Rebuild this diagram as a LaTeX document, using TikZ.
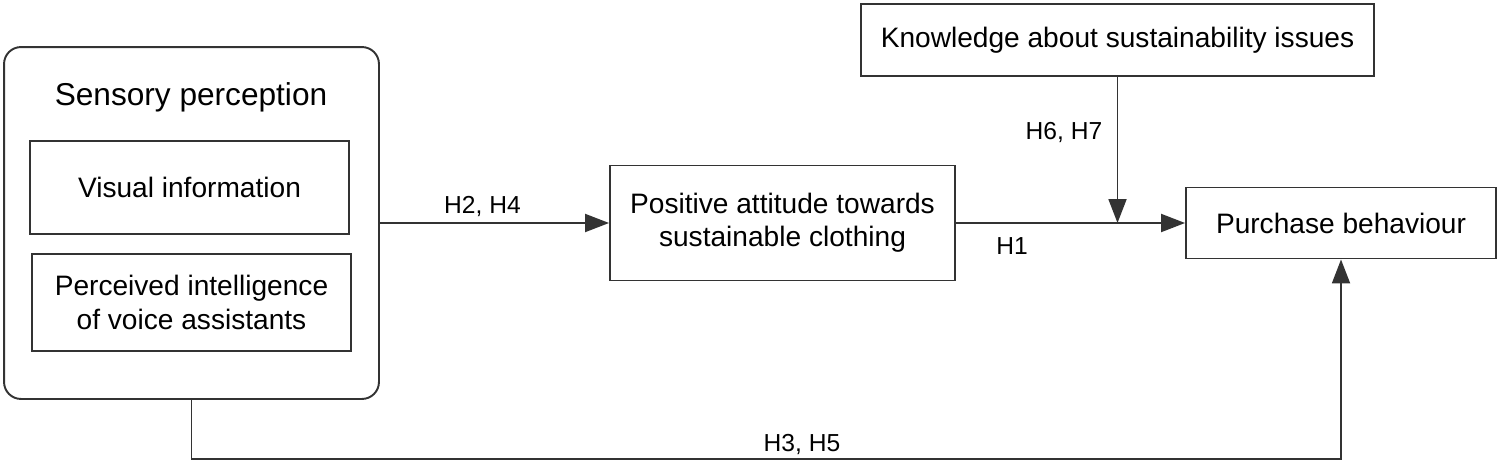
\documentclass[tikz,border=0pt]{standalone}
\usepackage{fontspec}
\setmainfont{Liberation Sans}
\usetikzlibrary{arrows.meta}

\begin{document}
\begin{tikzpicture}[x=0.02cm,y=-0.02cm,line width=1.1pt,
  >={Triangle[length=4.8mm,width=3.6mm]},
  box/.style={draw=black!80,line width=1.1pt,inner sep=0pt,align=center,
    font=\fontsize{16}{19}\selectfont},
  hyp/.style={inner sep=0pt,anchor=base,font=\fontsize{14}{17}\selectfont}]
\useasboundingbox (0,0) rectangle (1500,463);
% 左侧：感官知觉（圆角外框）
\node[box,rounded corners=0.34cm,minimum width=7.5cm,minimum height=7.04cm] (sens) at (191.5,223) {};
\node[inner sep=0pt,anchor=base,font=\fontsize{18}{21}\selectfont] (senstitle) at (191,105) {Sensory perception};
\node[box,minimum width=6.38cm,minimum height=1.86cm] (vis) at (189.5,187.5) {Visual information};
\node[box,minimum width=6.38cm,minimum height=1.94cm] (intel) at (191.5,302.5) {Perceived intelligence\\of voice assistants};
% 中间与右侧的框
\node[box,minimum width=6.9cm,minimum height=2.3cm] (att) at (782.5,223) {Positive attitude towards\\sustainable clothing};
\node[box,minimum width=10.26cm,minimum height=1.44cm] (know) at (1117.5,40) {Knowledge about sustainability issues};
\node[box,minimum width=6.2cm,minimum height=1.42cm] (pur) at (1341,223) {Purchase behaviour};
% 连线
\coordinate (join) at (know.south |- att.east);
\coordinate (base) at (0,459);
\draw[black!80,->] (sens.east) -- (att.west);
\draw[black!80,->] (att.east) -- (pur.west);
\draw[black!80,->] (know.south) -- (join);
\draw[black!80,->] (sens.south) -- (sens.south |- base) -| (pur.south);
% 假设标签
\node[hyp] (h24) at (482.5,213) {H2, H4};
\node[hyp] (h1) at (1012,254) {H1};
\node[hyp] (h67) at (1064,139) {H6, H7};
\node[hyp] (h35) at (802,451) {H3, H5};
\end{tikzpicture}
\end{document}
